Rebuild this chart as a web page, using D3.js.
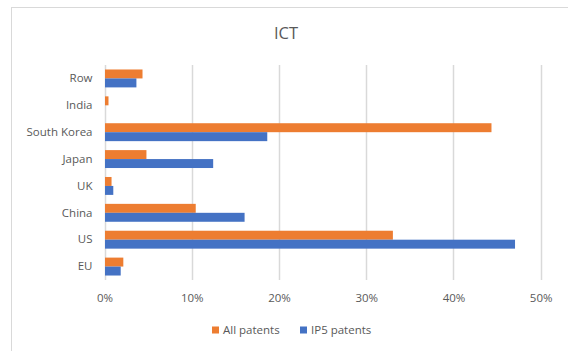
<!DOCTYPE html>
<html>
<head>
<meta charset="utf-8">
<script src="https://cdn.jsdelivr.net/npm/d3@7"></script>
<style>
  html, body { margin: 0; padding: 0; background: #fff; }
  svg { display: block; font-family: "Open Sans", "Liberation Sans", sans-serif; }
</style>
</head>
<body>
<svg id="chart" width="568" height="351"></svg>
<script>
// Categories listed bottom to top as they appear on the vertical axis
const categories = ["EU", "US", "China", "UK", "Japan", "South Korea", "India", "Row"];
const seriesNames = ["All patents", "IP5 patents"];
const allPatents = [2.1, 33.0, 10.4, 0.75, 4.75, 44.3, 0.4, 4.3];
const ip5Patents = [1.8, 47.0, 16.0, 0.95, 12.4, 18.6, 0, 3.6];
const xTicks = [0, 10, 20, 30, 40, 50];
const title = "ICT";

const colors = ["#ED7D31", "#4472C4"];
const textColor = "#595959";
const gridColor = "#D9D9D9";

const svg = d3.select("#chart");
const W = 568, H = 351;
const plot = { left: 104.5, right: 540.7, top: 65, bottom: 280 };

// Chart area frame
svg.append("rect")
  .attr("x", 11.5).attr("y", 7.5)
  .attr("width", W + 20).attr("height", H + 20)
  .attr("fill", "#fff").attr("stroke", gridColor).attr("stroke-width", 1);

// Title
svg.append("text")
  .attr("x", 286).attr("y", 39)
  .attr("text-anchor", "middle")
  .attr("font-size", 16.5)
  .attr("fill", textColor)
  .text(title);

const x = d3.scaleLinear().domain([0, 50]).range([plot.left, plot.right]);
// Top category first in the band order so the list reads bottom-up
const y = d3.scaleBand()
  .domain(categories.slice().reverse())
  .range([plot.top, plot.bottom])
  .paddingInner(0).paddingOuter(0);

const sub = d3.scaleBand()
  .domain(seriesNames)
  .range([0, y.bandwidth()])
  .paddingInner(0)
  .paddingOuter(0.5);

// Vertical gridlines (0% acts as the axis line)
svg.append("g")
  .selectAll("line")
  .data(xTicks)
  .join("line")
  .attr("x1", d => Math.round(x(d)) + 0.5)
  .attr("x2", d => Math.round(x(d)) + 0.5)
  .attr("y1", plot.top).attr("y2", plot.bottom)
  .attr("stroke", gridColor).attr("stroke-width", 1.5);

// Bars
const rows = categories.map((c, i) => ({ cat: c, values: [allPatents[i], ip5Patents[i]] }));
const groups = svg.append("g")
  .selectAll("g")
  .data(rows)
  .join("g")
  .attr("transform", d => `translate(0,${y(d.cat)})`);

groups.selectAll("rect")
  .data(d => d.values.map((v, j) => ({ v, s: seriesNames[j], j })))
  .join("rect")
  .attr("x", x(0) + 0.5)
  .attr("y", d => sub(d.s))
  .attr("width", d => Math.max(0, x(d.v) - x(0)))
  .attr("height", sub.bandwidth())
  .attr("fill", d => colors[d.j]);

// Category labels
const yAxis = d3.axisLeft(y).tickSize(0).tickPadding(0);
const yg = svg.append("g")
  .attr("transform", `translate(${plot.left - 12},0)`)
  .call(yAxis);
yg.select(".domain").remove();
yg.selectAll("text")
  .attr("font-size", 11.5)
  .attr("font-family", "\"Open Sans\", sans-serif")
  .attr("fill", textColor);

// Percentage tick labels
const xAxis = d3.axisBottom(x).tickValues(xTicks).tickSize(0).tickPadding(0)
  .tickFormat(d => d + "%");
const xg = svg.append("g")
  .attr("transform", `translate(0,${plot.bottom + 14})`)
  .call(xAxis);
xg.select(".domain").remove();
xg.selectAll("text")
  .attr("font-size", 11.5)
  .attr("font-family", "\"Open Sans\", sans-serif")
  .attr("fill", textColor);

// Legend
const legendItems = [
  { name: seriesNames[0], color: colors[0], x: 212 },
  { name: seriesNames[1], color: colors[1], x: 300 }
];
const lg = svg.append("g")
  .selectAll("g")
  .data(legendItems)
  .join("g")
  .attr("transform", d => `translate(${d.x},330)`);
lg.append("rect")
  .attr("x", 0).attr("y", -3.5)
  .attr("width", 7).attr("height", 7)
  .attr("fill", d => d.color);
lg.append("text")
  .attr("x", 11).attr("y", 0)
  .attr("dy", "0.35em")
  .attr("font-size", 11.5)
  .attr("fill", textColor)
  .text(d => d.name);
</script>
</body>
</html>
